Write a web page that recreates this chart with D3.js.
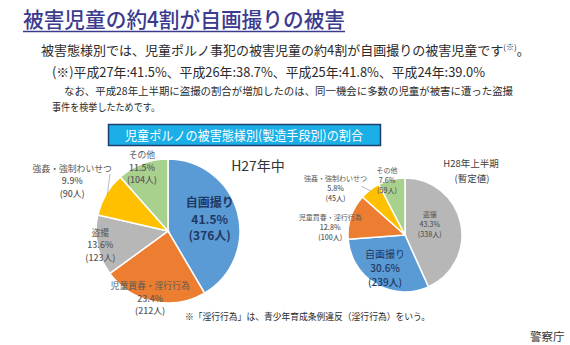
<!DOCTYPE html>
<html><head><meta charset="utf-8">
<script src="https://cdn.jsdelivr.net/npm/d3@7"></script>
<style>
html,body{margin:0;padding:0;background:#fff;}
svg{display:block;font-family:"Noto Sans CJK JP","Noto Sans",sans-serif;}
</style></head>
<body>
<svg id="c" width="570" height="345"></svg>
<script>
// ---- data ----
const categoriesH27 = ["自画撮り", "児童買春・淫行行為", "盗撮", "強姦・強制わいせつ", "その他"];
const percentH27 = [41.5, 23.4, 13.6, 9.9, 11.5];
const countH27 = [376, 212, 123, 90, 104];

const categoriesH28 = ["盗撮", "自画撮り", "児童買春・淫行行為", "強姦・強制わいせつ", "その他"];
const percentH28 = [43.3, 30.6, 12.8, 5.8, 7.6];
const countH28 = [338, 239, 100, 45, 59];

const yearlyLabels = ["平成27年", "平成26年", "平成25年", "平成24年"];
const yearlyPercent = [41.5, 38.7, 41.8, 39.0];

// ---- styles ----
const colorOf = {
  "自画撮り": "#5B9BD5",
  "児童買春・淫行行為": "#ED7D31",
  "盗撮": "#B7B7B7",
  "強姦・強制わいせつ": "#FFC000",
  "その他": "#A9D18E"
};

const svg = d3.select("#c");
const txt = "#2b2b2b";

// Title
svg.append("text").attr("x", 23).attr("y", 27)
  .attr("font-size", 21).attr("font-weight", 500).attr("fill", "#3b3b8e")
  .attr("textLength", 322).attr("lengthAdjust", "spacingAndGlyphs")
  .text("被害児童の約4割が自画撮りの被害");
svg.append("line").attr("x1", 23).attr("x2", 345).attr("y1", 31.5).attr("y2", 31.5)
  .attr("stroke", "#3b3b8e").attr("stroke-width", 1.5);

// Body text
const l1 = svg.append("text").attr("x", 41).attr("y", 55).attr("font-size", 13).attr("fill", txt);
l1.append("tspan").text("被害態様別では、児童ポルノ事犯の被害児童の約4割が自画撮りの被害児童です");
l1.append("tspan").attr("font-size", 8).attr("dy", -5).text("(※)");
l1.append("tspan").attr("dy", 5).text("。");

const l2txt = "(※)" + yearlyLabels.map((y, i) => y + ":" + yearlyPercent[i].toFixed(1) + "%").join("、");
svg.append("text").attr("x", 52).attr("y", 77).attr("font-size", 13).attr("fill", txt)
  .attr("textLength", 433).attr("lengthAdjust", "spacingAndGlyphs").text(l2txt);

svg.append("text").attr("x", 64).attr("y", 95).attr("font-size", 10.5).attr("fill", txt)
  .attr("textLength", 449).attr("lengthAdjust", "spacingAndGlyphs")
  .text("なお、平成28年上半期に盗撮の割合が増加したのは、同一機会に多数の児童が被害に遭った盗撮");
svg.append("text").attr("x", 52).attr("y", 111).attr("font-size", 10.5).attr("fill", txt)
  .attr("textLength", 108).attr("lengthAdjust", "spacingAndGlyphs")
  .text("事件を検挙したためです。");

// Heading box
svg.append("rect").attr("x", 108.5).attr("y", 124.5).attr("width", 272).attr("height", 21)
  .attr("fill", "#1AAFE6").attr("stroke", "#1F3F6E").attr("stroke-width", 1.5);
svg.append("text").attr("x", 244).attr("y", 140).attr("text-anchor", "middle")
  .attr("font-size", 13).attr("fill", "#fff")
  .attr("textLength", 238).attr("lengthAdjust", "spacingAndGlyphs")
  .text("児童ポルノの被害態様別(製造手段別)の割合");

// Pie drawing
function drawPie(cfg) {
  const pie = d3.pie().sort(null).value(d => d.v);
  const data = cfg.cats.map((c, i) => ({ c, v: cfg.pct[i], n: cfg.cnt[i] }));
  const arcs = pie(data);
  const arc = d3.arc().innerRadius(0).outerRadius(cfg.r);
  const g = svg.append("g").attr("transform", `translate(${cfg.cx},${cfg.cy})`);
  g.selectAll("path").data(arcs).enter().append("path")
    .attr("d", arc).attr("fill", d => colorOf[d.data.c])
    .attr("stroke", "#fff").attr("stroke-width", 1.5);

  const polar = (rad, ang) => [rad * Math.sin(ang), -rad * Math.cos(ang)];

  arcs.forEach((a) => {
    const lay = cfg.layout[a.data.c];
    const mid = lay.ang != null ? lay.ang * Math.PI / 180 : (a.startAngle + a.endAngle) / 2;
    const [x, y] = polar(cfg.r * lay.k, mid);
    if (lay.leader) {
      const p0 = polar(cfg.r * 0.98, (a.startAngle + a.endAngle) / 2);
      const p1 = polar(cfg.r * lay.leader.k, lay.leader.ang * Math.PI / 180);
      g.append("line").attr("x1", p0[0]).attr("y1", p0[1]).attr("x2", p1[0]).attr("y2", p1[1])
        .attr("stroke", "#9a9a9a").attr("stroke-width", 0.7);
    }
    const lines = [a.data.c, a.data.v.toFixed(1) + "%", "(" + a.data.n + "人)"];
    lines.forEach((s, j) => {
      g.append("text").attr("text-anchor", "middle")
        .attr("font-size", lay.fs).attr("fill", lay.color)
        .attr("font-weight", lay.bold ? 700 : (j > 0 ? 500 : 400))
        .attr("x", x).attr("y", y + (j - 1) * lay.lh + lay.fs * 0.36).text(s);
    });
  });
}

drawPie({
  cx: 168, cy: 231, r: 72,
  cats: categoriesH27, pct: percentH27, cnt: countH27,
  layout: {
    "自画撮り": { k: 0.6, fs: 12, lh: 16.5, color: "#1F3864", bold: true },
    "児童買春・淫行行為": { k: 0.97, ang: 194.8, fs: 8.8, lh: 12.5, color: "#595959" },
    "盗撮": { k: 0.96, ang: 258.4, fs: 8.8, lh: 12.5, color: "#595959" },
    "強姦・強制わいせつ": { k: 1.5, ang: 297.5, fs: 8.8, lh: 12.5, color: "#595959", leader: { k: 1.13, ang: 314.5 } },
    "その他": { k: 0.95, ang: 337.6, fs: 8.8, lh: 12.5, color: "#595959" }
  }
});

drawPie({
  cx: 405, cy: 235, r: 57,
  cats: categoriesH28, pct: percentH28, cnt: countH28,
  layout: {
    "盗撮": { k: 0.47, ang: 68, fs: 7, lh: 10, color: "#595959" },
    "自画撮り": { k: 0.69, ang: 210.5, fs: 10, lh: 14, color: "#1F3864" },
    "児童買春・淫行行為": { k: 1.32, ang: 276, fs: 7, lh: 10, color: "#595959" },
    "強姦・強制わいせつ": { k: 1.47, ang: 303.9, fs: 7, lh: 10, color: "#595959", leader: { k: 1.15, ang: 318 } },
    "その他": { k: 1.0, ang: 341.6, fs: 7, lh: 10, color: "#595959" }
  }
});

// Period labels
svg.append("text").attr("x", 258).attr("y", 171).attr("text-anchor", "middle")
  .attr("font-size", 14).attr("fill", "#333").text("H27年中");
svg.append("text").attr("x", 471).attr("y", 167).attr("text-anchor", "middle")
  .attr("font-size", 9.5).attr("fill", "#404040").text("H28年上半期");
svg.append("text").attr("x", 472).attr("y", 182).attr("text-anchor", "middle")
  .attr("font-size", 9.5).attr("fill", "#404040").text("(暫定値)");

// Footnote
svg.append("text").attr("x", 185).attr("y", 320).attr("font-size", 9.5).attr("fill", txt)
  .attr("textLength", 245).attr("lengthAdjust", "spacingAndGlyphs")
  .text("※「淫行行為」は、青少年育成条例違反（淫行行為）をいう。");

// Source
svg.append("text").attr("x", 530).attr("y", 341).attr("font-size", 11.5).attr("fill", "#333")
  .text("警察庁");
</script>
</body></html>
